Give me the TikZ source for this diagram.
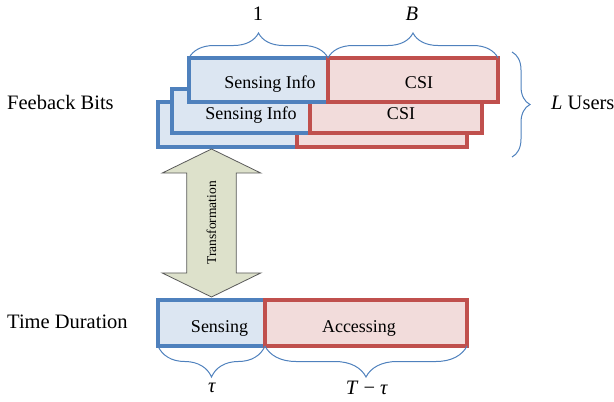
\documentclass[tikz,border=0pt]{standalone}
\usepackage{fontspec}
\setmainfont{Liberation Serif}
\usetikzlibrary{shapes.arrows,decorations.pathreplacing}
\definecolor{bbord}{HTML}{4F81BD}
\definecolor{bfill}{HTML}{DCE6F2}
\definecolor{rbord}{HTML}{C0504D}
\definecolor{rfill}{HTML}{F2DCDB}
\definecolor{afill}{HTML}{DDE1CB}
\definecolor{abord}{HTML}{5A5A5A}
\begin{document}
\begin{tikzpicture}[x=1pt,y=-1pt,
  box/.style={draw, line width=3.3pt, inner sep=0pt, outer sep=0pt, anchor=north west, minimum height=44pt},
  bluebox/.style={box, draw=bbord, fill=bfill},
  redbox/.style={box, draw=rbord, fill=rfill},
  boxtext/.style={font=\fontsize{18}{20}\selectfont, inner sep=0pt, anchor=base},
  bigtext/.style={font=\fontsize{20.5}{24}\selectfont, inner sep=0pt},
  bracestyle/.style={draw=bbord, line width=1pt, decorate, decoration={brace, amplitude=#1}},
  transarrow/.style={double arrow, draw=abord, fill=afill, line width=0.8pt, rotate=90,
    minimum height=148pt, inner xsep=2pt, inner ysep=19.6pt,
    double arrow head extend=24.5pt, double arrow tip angle=128,
    font=\fontsize{13.5}{15}\selectfont}
]
\useasboundingbox (0,0) rectangle (614,402);

% bottom layer
\node[bluebox, minimum width=139pt, minimum height=45pt] (b3) at (158,102) {};
\node[redbox, minimum width=170pt, minimum height=45pt] (r3) at (297,102) {};
% middle layer
\node[bluebox, minimum width=138pt] (b2) at (172,89) {};
\node[boxtext] (b2t) at (251,119) {Sensing Info};
\node[redbox, minimum width=172pt] (r2) at (310,89) {};
\node[boxtext] (r2t) at (401,119) {CSI};
% top layer
\node[bluebox, minimum width=139pt] (b1) at (189,58) {};
\node[boxtext] (b1t) at (270,88) {Sensing Info};
\node[redbox, minimum width=170pt] (r1) at (328,58) {};
\node[boxtext] (r1t) at (419,88) {CSI};

% top braces
\draw[bracestyle=25pt] (b1.north west) -- (b1.north east);
\draw[bracestyle=25pt] (r1.north west) -- (r1.north east);
\node[bigtext] (one) at (258,14) {1};
\node[bigtext] (bee) at (412,14) {\textit{B}};

% right brace
\coordinate (rbt) at (512,52);
\coordinate (rbb) at (512,157);
\draw[bracestyle=18pt] (rbt) -- (rbb);
\node[bigtext, anchor=west] (users) at (551,103) {\textit{L} Users};

% left labels
\node[bigtext, anchor=west] (fb) at (7,102) {Feeback Bits};
\node[bigtext, anchor=west] (td) at (7,322) {Time Duration};

% transformation arrow
\node[transarrow] (arr) at (211.5,223) {Transformation};

% bottom row
\node[bluebox, minimum width=107pt, minimum height=46pt] (sb) at (158,300) {};
\node[boxtext] (sbt) at (219.5,332) {Sensing};
\node[redbox, minimum width=202pt, minimum height=46pt] (ab) at (265,300) {};
\node[boxtext] (abt) at (359,332) {Accessing};

\draw[bracestyle=31pt] (sb.south east) -- (sb.south west);
\draw[bracestyle=31pt] (ab.south east) -- (ab.south west);
\node[bigtext] (tau) at (212,388) {\textit{τ}};
\node[bigtext] (ttau) at (367,388) {\textit{T} − \textit{τ}};
\end{tikzpicture}
\end{document}
